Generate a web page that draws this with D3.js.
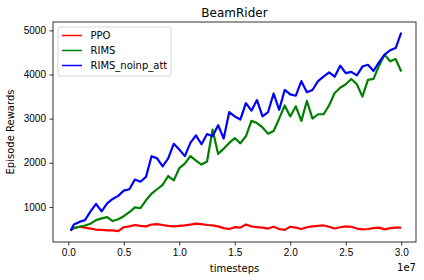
<!doctype html>
<html>
<head>
  <script src="https://cdnjs.cloudflare.com/ajax/libs/d3/7.8.5/d3.min.js"></script>
  <style>
    body { margin: 0; background: #fff; }
    svg { font-family: "DejaVu Sans", sans-serif; }
    .tick line { stroke: #000; stroke-width: 0.8; }
    .tick text { font-size: 10px; fill: #000; }
    path.domain { display: none; }
  </style>
</head>
<body>
  <svg id="chart" width="424" height="280"></svg>
  <script>
    // timesteps in units of 1e7
    var steps = [0.02, 0.05, 0.10, 0.15, 0.20, 0.25, 0.30, 0.35, 0.40, 0.45, 0.50,
      0.55, 0.60, 0.65, 0.70, 0.75, 0.80, 0.85, 0.90, 0.95, 1.00,
      1.05, 1.10, 1.15, 1.20, 1.25, 1.30, 1.35, 1.40, 1.45, 1.50,
      1.55, 1.60, 1.65, 1.70, 1.75, 1.80, 1.85, 1.90, 1.95, 2.00,
      2.05, 2.10, 2.15, 2.20, 2.25, 2.30, 2.35, 2.40, 2.45, 2.50,
      2.55, 2.60, 2.65, 2.70, 2.75, 2.80, 2.85, 2.90, 2.95, 3.00];

    var ppo = [470, 520, 550, 530, 510, 485, 480, 470, 470, 450, 540,
      560, 590, 570, 560, 600, 610, 590, 570, 560, 570,
      580, 600, 620, 610, 590, 580, 560, 520, 500, 540,
      530, 600, 560, 540, 530, 510, 550, 500, 480, 550,
      530, 500, 540, 560, 570, 580, 550, 510, 540, 560,
      550, 510, 490, 500, 520, 530, 490, 520, 530, 530];

    var rims = [470, 520, 550, 580, 620, 700, 740, 770, 680, 720, 790,
      880, 990, 970, 1150, 1300, 1400, 1500, 1700, 1600, 1880,
      1980, 2150, 2050, 1960, 2030, 2750, 2200, 2320, 2450, 2560,
      2440, 2600, 2950, 2900, 2800, 2660, 2720, 3000, 3300, 3050,
      3280, 2950, 3400, 3000, 3100, 3100, 3300, 3580, 3700, 3780,
      3900, 3780, 3500, 3880, 3900, 4200, 4450, 4300, 4350, 4070];

    var rimsNoinp = [460, 600, 660, 700, 900, 1070, 900, 1080, 1180, 1250, 1370,
      1400, 1620, 1570, 1680, 2150, 2100, 1920, 2100, 2430, 2300,
      2150, 2450, 2620, 2420, 2650, 2600, 2850, 2550, 3150, 3050,
      2980, 3350, 3180, 3420, 3050, 3150, 3570, 3200, 3650, 3550,
      3520, 3850, 3600, 3650, 3850, 3950, 4050, 3950, 4200, 4030,
      4060, 3980, 4180, 4220, 4080, 4280, 4450, 4550, 4600, 4950];

    var seriesNames = ["PPO", "RIMS", "RIMS_noinp_att"];
    var seriesColors = ["#ff0000", "#008000", "#0000ff"];
    var xTicks = [0.0, 0.5, 1.0, 1.5, 2.0, 2.5, 3.0];
    var yTicks = [1000, 2000, 3000, 4000, 5000];

    var mLeft = 53, mRight = 416, mTop = 22, mBottom = 242;
    var svg = d3.select("#chart");

    var x = d3.scaleLinear().domain([-0.138, 3.133]).range([mLeft, mRight]);
    var y = d3.scaleLinear().domain([205, 5190]).range([mBottom, mTop]);

    var xAxis = d3.axisBottom(x).tickValues(xTicks).tickSize(3.5).tickPadding(3.5)
      .tickFormat(d3.format(".1f"));
    svg.append("g").attr("transform", "translate(0," + mBottom + ")").call(xAxis);

    var yAxis = d3.axisLeft(y).tickValues(yTicks).tickSize(3.5).tickPadding(3.5)
      .tickFormat(d3.format("d"));
    svg.append("g").attr("transform", "translate(" + mLeft + ",0)").call(yAxis);

    var line = d3.line().x((d, i) => x(steps[i])).y(d => y(d));
    [ppo, rims, rimsNoinp].forEach(function(s, k) {
      svg.append("path").datum(s)
        .attr("d", line)
        .attr("fill", "none")
        .attr("stroke", seriesColors[k])
        .attr("stroke-width", 2.2)
        .attr("stroke-linejoin", "round");
    });

    // frame
    svg.append("rect").attr("x", mLeft).attr("y", mTop)
      .attr("width", mRight - mLeft).attr("height", mBottom - mTop)
      .attr("fill", "none").attr("stroke", "#000").attr("stroke-width", 0.8);

    svg.append("text").attr("x", (mLeft + mRight) / 2).attr("y", 17)
      .attr("text-anchor", "middle").style("font-size", "12px").text("BeamRider");
    svg.append("text").attr("x", (mLeft + mRight) / 2).attr("y", 272)
      .attr("text-anchor", "middle").style("font-size", "10px").text("timesteps");
    svg.append("text").attr("x", mRight).attr("y", 271)
      .attr("text-anchor", "end").style("font-size", "10px").text("1e7");
    svg.append("text").attr("transform", "translate(14," + (mTop + mBottom) / 2 + ") rotate(-90)")
      .attr("text-anchor", "middle").style("font-size", "10px").text("Episode Rewards");

    // legend
    var lg = svg.append("g");
    lg.append("rect").attr("x", 58).attr("y", 27).attr("width", 113).attr("height", 49)
      .attr("rx", 2).attr("fill", "#fff").attr("fill-opacity", 0.8)
      .attr("stroke", "#cccccc").attr("stroke-width", 0.8);
    seriesNames.forEach(function(name, k) {
      var ly = 35.5 + k * 15;
      lg.append("line").attr("x1", 62).attr("x2", 82).attr("y1", ly).attr("y2", ly)
        .attr("stroke", seriesColors[k]).attr("stroke-width", 1.5);
      lg.append("text").attr("x", 90.5).attr("y", ly + 3.6)
        .style("font-size", "10px").text(name);
    });
  </script>
</body>
</html>
